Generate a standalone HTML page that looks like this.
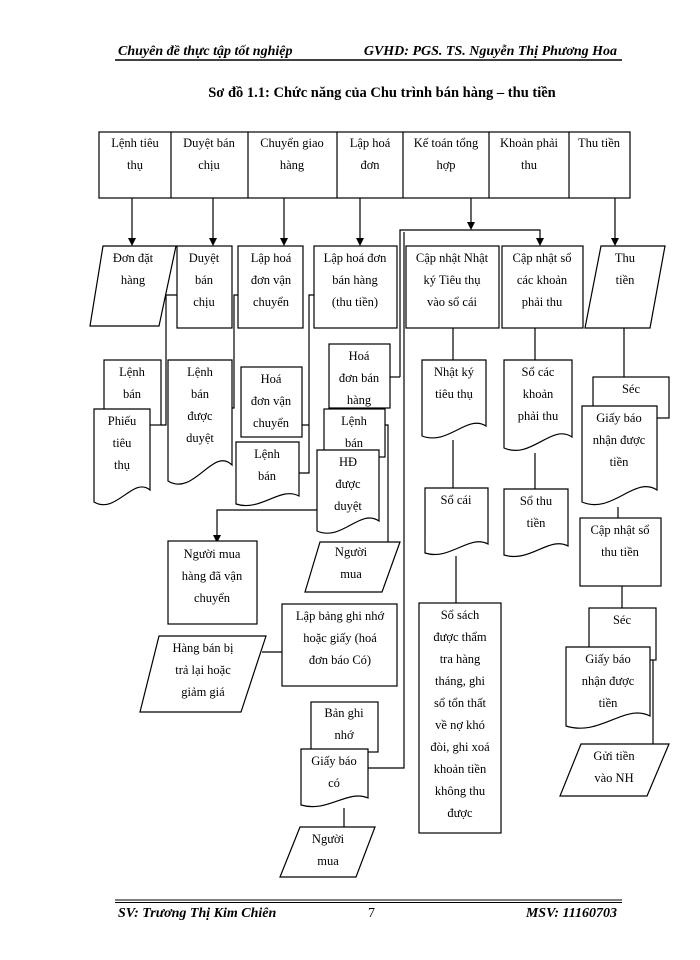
<!DOCTYPE html>
<html><head><meta charset="utf-8"><style>
html,body{margin:0;padding:0;background:#fff}
svg{display:block}
text{font-family:"Liberation Serif",serif;font-size:12.5px;fill:#000}
.h{font-weight:bold;font-style:italic;font-size:14px}
.t{font-weight:bold;font-size:14.5px}
</style></head><body>
<svg width="700" height="960" viewBox="0 0 700 960" xmlns="http://www.w3.org/2000/svg">
<text class="h" x="118" y="55">Chuyên đề thực tập tốt nghiệp</text>
<text class="h" x="617" y="55" text-anchor="end">GVHD: PGS. TS. Nguyễn Thị Phương Hoa</text>
<line x1="115" y1="60" x2="622" y2="60" stroke="#000" stroke-width="1.5"/>
<text class="t" x="382" y="97" text-anchor="middle">Sơ đồ 1.1: Chức năng của Chu trình bán hàng – thu tiền</text>

<g fill="#fff" stroke="#000" stroke-width="1.2">
<rect x="99" y="132" width="531" height="66"/>
<path d="M171 132V198M248 132V198M337 132V198M403 132V198M489 132V198M569 132V198" fill="none"/>
</g>
<g text-anchor="middle">
<text x="135" y="147">Lệnh tiêu</text><text x="135" y="169">thụ</text>
<text x="209" y="147">Duyệt bán</text><text x="209" y="169">chịu</text>
<text x="292" y="147">Chuyển giao</text><text x="292" y="169">hàng</text>
<text x="370" y="147">Lập hoá</text><text x="370" y="169">đơn</text>
<text x="446" y="147">Kế toán tổng</text><text x="446" y="169">hợp</text>
<text x="529" y="147">Khoản phải</text><text x="529" y="169">thu</text>
<text x="599" y="147">Thu tiền</text>
</g>

<g stroke="#000" stroke-width="1.2" fill="none">
<line x1="132" y1="198" x2="132" y2="240"/>
<line x1="213" y1="198" x2="213" y2="240"/>
<line x1="284" y1="198" x2="284" y2="240"/>
<line x1="360" y1="198" x2="360" y2="240"/>
<line x1="471" y1="198" x2="471" y2="224"/>
<line x1="615" y1="198" x2="615" y2="240"/>
<path d="M400 377V230H540V240"/>
<path d="M390 377H400"/>
<path d="M404 232V768H368"/>
<path d="M177 295H166V425H161"/>
<path d="M238 295H234V408H232"/>
<path d="M314 295H309V473H299M302 425H309"/>
<path d="M385 425H388V542"/>
<path d="M317 510H217V536"/>
<path d="M453 328V360M453 440V488M456 556V603"/>
<path d="M535 328V360M535 453V489"/>
<path d="M624 328V377M618 507V518M622 586V608M653 660V744"/>
<path d="M262 652H282M344 808V827"/>
</g>
<g fill="#000">
<polygon points="128,238 136,238 132,246"/>
<polygon points="209,238 217,238 213,246"/>
<polygon points="280,238 288,238 284,246"/>
<polygon points="356,238 364,238 360,246"/>
<polygon points="467,222 475,222 471,230"/>
<polygon points="611,238 619,238 615,246"/>
<polygon points="536,238 544,238 540,246"/>
<polygon points="213,535 221,535 217,543"/>
</g>

<g fill="#fff" stroke="#000" stroke-width="1.2">
<path d="M103 246H176L159 326H90Z"/>
<rect x="177" y="246" width="55" height="82"/>
<rect x="238" y="246" width="65" height="82"/>
<rect x="314" y="246" width="83" height="82"/>
<rect x="406" y="246" width="93" height="82"/>
<rect x="502" y="246" width="81" height="82"/>
<path d="M601 246H665L650 328H585Z"/>

<rect x="104" y="360" width="57" height="65"/>
<path d="M94 409H150V490C133 476 116 515 94 502Z"/>
<path d="M168 360H232V465C213 446 194 497 168 481Z"/>
<rect x="241" y="367" width="61" height="70"/>
<path d="M236 442H299V496C280 486 261 512 236 504Z"/>
<rect x="329" y="344" width="61" height="64"/>
<rect x="324" y="409" width="61" height="48"/>
<path d="M317 450H379V521C360 508 342 542 317 531Z"/>

<path d="M422 360H486V426C467 414 448 446 422 436Z"/>
<path d="M504 360H572V437C552 423 531 460 504 448Z"/>
<path d="M425 488H488V544C469 534 450 561 425 553Z"/>
<path d="M504 489H568V546C549 536 530 563 504 555Z"/>
<rect x="419" y="603" width="82" height="230"/>

<rect x="593" y="377" width="76" height="41"/>
<path d="M582 406H657V490C635 475 612 515 582 502Z"/>
<rect x="580" y="518" width="81" height="68"/>
<rect x="589" y="608" width="67" height="52"/>
<path d="M566 647H650V716C625 703 600 737 566 726Z"/>
<path d="M581 744H669L647 796H560Z"/>

<rect x="168" y="541" width="89" height="83"/>
<path d="M320 542H400L382 592H305Z"/>
<rect x="282" y="604" width="115" height="82"/>
<path d="M159 636H266L241 712H140Z"/>
<rect x="311" y="702" width="67" height="50"/>
<path d="M301 749H368V798C348 789 328 813 301 805Z"/>
<path d="M300 827H375L356 877H280Z"/>
</g>

<g text-anchor="middle">
<text x="133" y="262">Đơn đặt</text><text x="133" y="284">hàng</text>
<text x="204" y="262">Duyệt</text><text x="204" y="284">bán</text><text x="204" y="306">chịu</text>
<text x="271" y="262">Lập hoá</text><text x="271" y="284">đơn vận</text><text x="271" y="306">chuyển</text>
<text x="355" y="262">Lập hoá đơn</text><text x="355" y="284">bán hàng</text><text x="355" y="306">(thu tiền)</text>
<text x="452" y="262">Cập nhật Nhật</text><text x="452" y="284">ký Tiêu thụ</text><text x="452" y="306">vào sổ cái</text>
<text x="542" y="262">Cập nhật sổ</text><text x="542" y="284">các khoản</text><text x="542" y="306">phải thu</text>
<text x="625" y="262">Thu</text><text x="625" y="284">tiền</text>

<text x="132" y="376">Lệnh</text><text x="132" y="398">bán</text>
<text x="122" y="425">Phiếu</text><text x="122" y="447">tiêu</text><text x="122" y="469">thụ</text>
<text x="200" y="376">Lệnh</text><text x="200" y="398">bán</text><text x="200" y="420">được</text><text x="200" y="442">duyệt</text>
<text x="271" y="383">Hoá</text><text x="271" y="405">đơn vận</text><text x="271" y="427">chuyển</text>
<text x="267" y="458">Lệnh</text><text x="267" y="480">bán</text>
<text x="359" y="360">Hoá</text><text x="359" y="382">đơn bán</text><text x="359" y="404">hàng</text>
<text x="354" y="425">Lệnh</text><text x="354" y="447">bán</text>
<text x="348" y="466">HĐ</text><text x="348" y="488">được</text><text x="348" y="510">duyệt</text>

<text x="454" y="376">Nhật ký</text><text x="454" y="398">tiêu thụ</text>
<text x="538" y="376">Sổ các</text><text x="538" y="398">khoản</text><text x="538" y="420">phải thu</text>
<text x="456" y="504">Sổ cái</text>
<text x="536" y="505">Sổ thu</text><text x="536" y="527">tiền</text>
<text x="460" y="619">Sổ sách</text><text x="460" y="641">được thẩm</text><text x="460" y="663">tra hàng</text><text x="460" y="685">tháng, ghi</text><text x="460" y="707">sổ tổn thất</text><text x="460" y="729">về nợ khó</text><text x="460" y="751">đòi, ghi xoá</text><text x="460" y="773">khoản tiền</text><text x="460" y="795">không thu</text><text x="460" y="817">được</text>

<text x="631" y="393">Séc</text>
<text x="619" y="422">Giấy báo</text><text x="619" y="444">nhận được</text><text x="619" y="466">tiền</text>
<text x="620" y="534">Cập nhật sổ</text><text x="620" y="556">thu tiền</text>
<text x="622" y="624">Séc</text>
<text x="608" y="663">Giấy báo</text><text x="608" y="685">nhận được</text><text x="608" y="707">tiền</text>
<text x="614" y="760">Gửi tiền</text><text x="614" y="782">vào NH</text>

<text x="212" y="558">Người mua</text><text x="212" y="580">hàng đã vận</text><text x="212" y="602">chuyển</text>
<text x="351" y="556">Người</text><text x="351" y="578">mua</text>
<text x="340" y="620">Lập bảng ghi nhớ</text><text x="340" y="642">hoặc giấy (hoá</text><text x="340" y="664">đơn báo Có)</text>
<text x="203" y="652">Hàng bán bị</text><text x="203" y="674">trả lại hoặc</text><text x="203" y="696">giảm giá</text>
<text x="344" y="717">Bản ghi</text><text x="344" y="739">nhớ</text>
<text x="334" y="765">Giấy báo</text><text x="334" y="787">có</text>
<text x="328" y="843">Người</text><text x="328" y="865">mua</text>
</g>

<line x1="115" y1="900" x2="622" y2="900" stroke="#000" stroke-width="1"/>
<line x1="115" y1="902.5" x2="622" y2="902.5" stroke="#000" stroke-width="1"/>
<text class="h" x="118" y="917">SV: Trương Thị Kim Chiên</text>
<text x="368" y="917" style="font-size:14px">7</text>
<text class="h" x="617" y="917" text-anchor="end">MSV: 11160703</text>
</svg>
</body></html>
